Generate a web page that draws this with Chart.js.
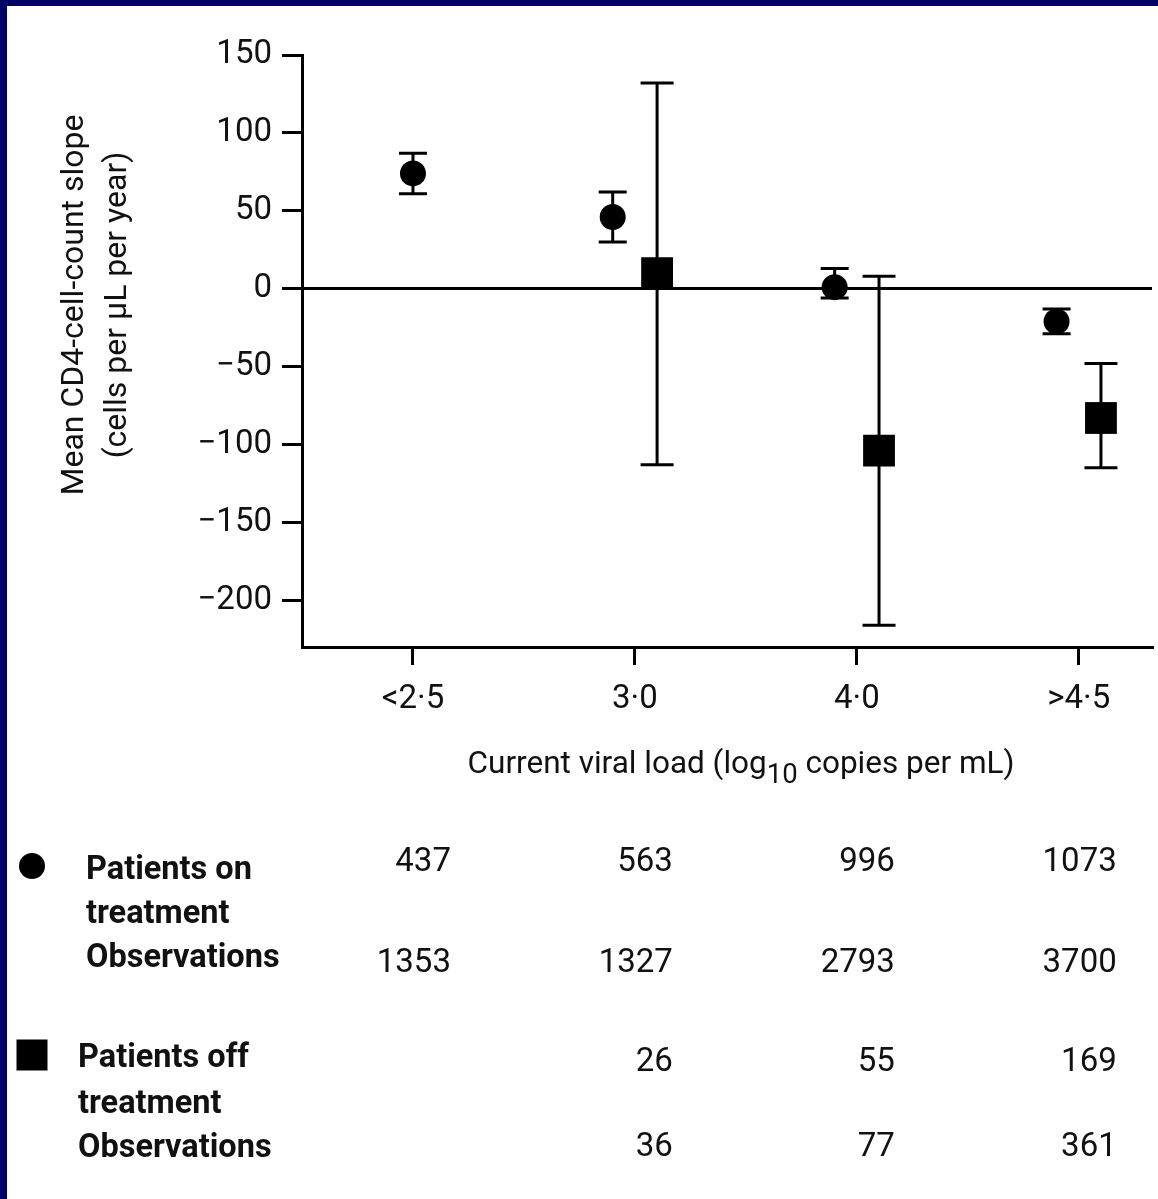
<!DOCTYPE html>
<html>
<head>
<meta charset="utf-8">
<title>CD4 slope by current viral load</title>
<script src="https://cdn.jsdelivr.net/npm/chart.js@4.4.1/dist/chart.umd.min.js"></script>
<style>
  html, body { margin: 0; padding: 0; background: #fff; overflow: hidden; }
  #frame {
    position: absolute; left: 0; top: 0;
    width: 1158px; height: 1199px;
    box-sizing: border-box;
    border-top: 6px solid #000066;
    border-left: 7px solid #000066;
    background: #fff;
  }
  #slopeChart { display: block; }
</style>
</head>
<body>
<div id="frame"><canvas id="slopeChart" width="1151" height="1193"></canvas></div>
<script>
// viral load categories (log10 copies per mL)
const categories = ['<2·5', '3·0', '4·0', '>4·5'];

// patients on treatment (circles): mean slope and CI
const onMean = [74, 46, 1, -21];
const onLow  = [61, 30, -6, -29];
const onHigh = [87, 62, 13, -13];

// patients off treatment (squares), nobody in the lowest group
const offMean = [null, 10, -104, -83];
const offLow  = [null, -113, -216, -115];
const offHigh = [null, 132, 8, -48];

const yTicks = [150, 100, 50, 0, -50, -100, -150, -200];

// numbers printed under the chart
const onPatients      = [437, 563, 996, 1073];
const onObservations  = [1353, 1327, 2793, 3700];
const offPatients     = [null, 26, 55, 169];
const offObservations = [null, 36, 77, 361];

const fontFamily = 'Roboto, "Noto Sans", sans-serif';
const textColor = '#111';
const pairShift = 0.1; // circles go left, squares right when both are present

Chart.defaults.font.family = fontFamily;
Chart.defaults.font.size = 33;
Chart.defaults.color = textColor;

function pointsFor(means, lows, highs, side) {
  const pts = [];
  means.forEach((m, i) => {
    if (m === null) return;
    const paired = onMean[i] !== null && offMean[i] !== null;
    pts.push({ x: i + (paired ? side * pairShift : 0), y: m, lo: lows[i], hi: highs[i] });
  });
  return pts;
}

function minus(v) {
  return v < 0 ? '\u2212' + Math.abs(v) : String(v);
}

// vertical CI lines with caps, drawn under the markers
const errorBars = {
  id: 'errorBars',
  beforeDatasetsDraw(chart) {
    const ctx = chart.ctx, xs = chart.scales.x, ys = chart.scales.y;
    ctx.save();
    ctx.strokeStyle = '#000';
    ctx.lineWidth = 3;
    chart.data.datasets.forEach(ds => {
      const w = ds.capWidth / 2;
      ds.data.forEach(p => {
        const px = xs.getPixelForValue(p.x);
        const top = ys.getPixelForValue(p.hi);
        const bot = ys.getPixelForValue(p.lo);
        ctx.beginPath();
        ctx.moveTo(px, top); ctx.lineTo(px, bot);
        ctx.moveTo(px - w, top); ctx.lineTo(px + w, top);
        ctx.moveTo(px - w, bot); ctx.lineTo(px + w, bot);
        ctx.stroke();
      });
    });
    ctx.restore();
  }
};

// axis titles and the counts table
const annotations = {
  id: 'annotations',
  afterDraw(chart) {
    const ctx = chart.ctx;
    const xs = chart.scales.x;
    ctx.save();
    ctx.fillStyle = textColor;

    // y title (two lines, rotated)
    ctx.font = '32px ' + fontFamily;
    ctx.textAlign = 'center';
    ctx.textBaseline = 'alphabetic';
    ['Mean CD4-cell-count slope', '(cells per µL per year)'].forEach((line, i) => {
      ctx.save();
      ctx.translate(76 + i * 43, 299);
      ctx.rotate(-Math.PI / 2);
      ctx.fillText(line, 0, 0);
      ctx.restore();
    });

    // x title with subscript
    const parts = [
      { t: 'Current viral load (log', size: 31.5, dy: 0 },
      { t: '10', size: 27.5, dy: 10 },
      { t: ' copies per mL)', size: 31.5, dy: 0 }
    ];
    let total = 0;
    parts.forEach(p => {
      ctx.font = p.size + 'px ' + fontFamily;
      p.w = ctx.measureText(p.t).width;
      total += p.w;
    });
    let cx = 734 - total / 2;
    ctx.textAlign = 'left';
    parts.forEach(p => {
      ctx.font = p.size + 'px ' + fontFamily;
      ctx.fillText(p.t, cx, 767 + p.dy);
      cx += p.w;
    });

    // legend markers
    ctx.fillStyle = '#000';
    ctx.beginPath();
    ctx.arc(25, 860, 13, 0, Math.PI * 2);
    ctx.fill();
    ctx.fillRect(25 - 15.5, 1049 - 15.5, 31, 31);

    // row labels
    ctx.fillStyle = textColor;
    ctx.font = 'bold 32.5px ' + fontFamily;
    ctx.textAlign = 'left';
    const groups = [
      { x: 79, lines: ['Patients on', 'treatment', 'Observations'], base: [873, 917, 961] },
      { x: 71, lines: ['Patients off', 'treatment', 'Observations'], base: [1061, 1107, 1151] }
    ];
    groups.forEach(g => g.lines.forEach((l, i) => ctx.fillText(l, g.x, g.base[i])));

    // counts, right-aligned under each category
    ctx.font = '33px ' + fontFamily;
    ctx.textAlign = 'right';
    const rows = [
      { values: onPatients, base: 865 },
      { values: onObservations, base: 966 },
      { values: offPatients, base: 1065 },
      { values: offObservations, base: 1150 }
    ];
    rows.forEach(r => r.values.forEach((v, i) => {
      if (v === null) return;
      ctx.fillText(String(v), xs.getPixelForValue(i) + 38, r.base);
    }));
    ctx.restore();
  }
};

const ctx = document.getElementById('slopeChart').getContext('2d');

const chart = new Chart(ctx, {
  type: 'scatter',
  data: {
    datasets: [
      {
        label: 'Patients on treatment',
        data: pointsFor(onMean, onLow, onHigh, -1),
        pointStyle: 'circle',
        pointRadius: 13,
        backgroundColor: '#000',
        borderColor: '#000',
        borderWidth: 0,
        capWidth: 28
      },
      {
        label: 'Patients off treatment',
        data: pointsFor(offMean, offLow, offHigh, 1),
        pointStyle: 'rect',
        pointRadius: 22.5,
        backgroundColor: '#000',
        borderColor: '#000',
        borderWidth: 0,
        capWidth: 33
      }
    ]
  },
  options: {
    responsive: false,
    animation: false,
    layout: {
      autoPadding: false, // big square markers would otherwise shrink the plot
      padding: { top: 49, right: 6, left: 0, bottom: 0 }
    },
    plugins: {
      legend: { display: false },
      tooltip: { enabled: false }
    },
    scales: {
      x: {
        type: 'linear',
        min: -0.5,
        max: 3.33,
        afterBuildTicks: scale => { scale.ticks = categories.map((c, i) => ({ value: i })); },
        afterFit: scale => {
          scale.height = 552;
          scale.paddingLeft = 0;
          scale.paddingRight = 0;
        },
        ticks: {
          callback: v => categories[v],
          padding: 15,
          maxRotation: 0
        },
        grid: {
          drawOnChartArea: false,
          tickLength: 18,
          lineWidth: 3,
          color: '#000'
        },
        border: { display: true, color: '#000', width: 3 }
      },
      y: {
        min: -230,
        max: 150,
        afterBuildTicks: scale => { scale.ticks = yTicks.map(v => ({ value: v })); },
        afterFit: scale => { scale.width = 295; },
        ticks: {
          callback: v => minus(v),
          padding: 10
        },
        grid: {
          drawOnChartArea: true,
          tickLength: 20,
          lineWidth: 3,
          color: c => (c.tick && c.tick.value === 0 ? '#000' : 'rgba(0,0,0,0)'),
          tickColor: '#000'
        },
        border: { display: true, color: '#000', width: 3 }
      }
    }
  },
  plugins: [errorBars, annotations]
});
</script>
</body>
</html>
